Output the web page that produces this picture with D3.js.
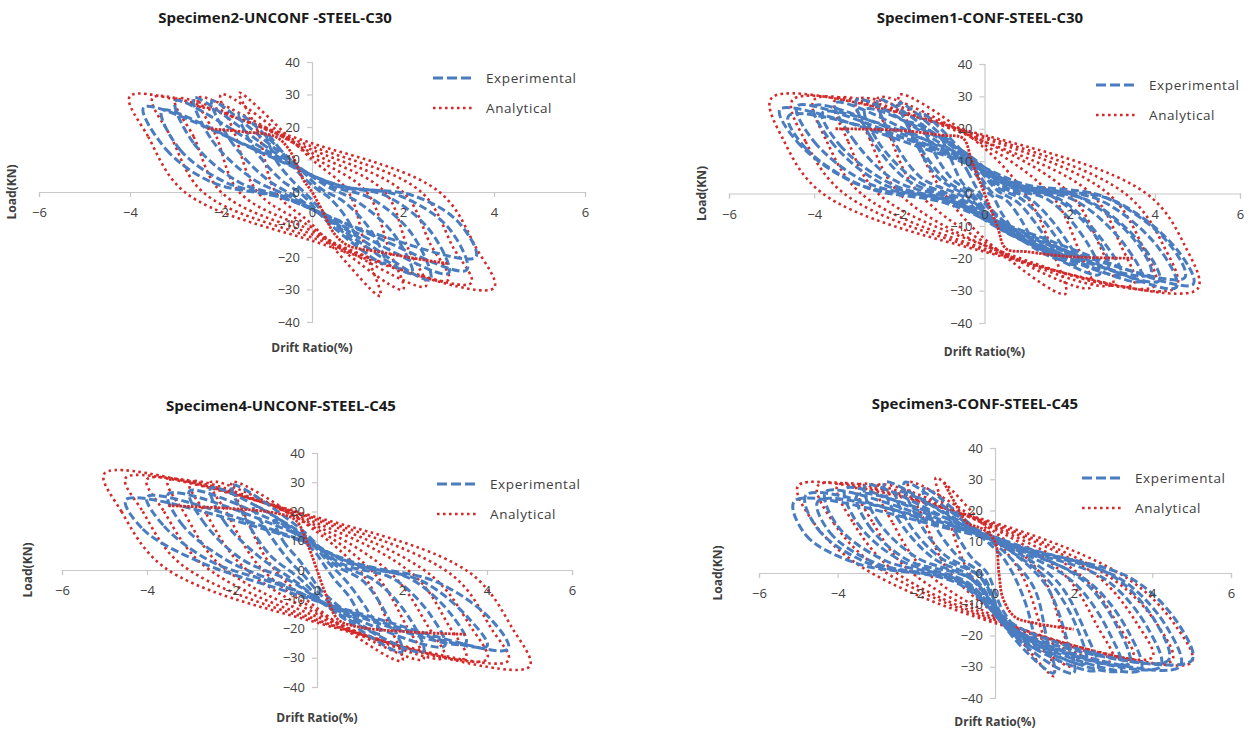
<!DOCTYPE html>
<html>
<head>
<meta charset="utf-8">
<script src="https://cdn.jsdelivr.net/npm/d3@7"></script>
<style>
  body { margin: 0; background: #fff; }
  svg { display: block; }
  .tick text { font-family: "Open Sans", "Liberation Sans", sans-serif; font-size: 13px; fill: #404040; }
  .axis path, .axis line { stroke: #c8c8c8; stroke-width: 1.2; }
</style>
</head>
<body>
<svg id="chart" width="1250" height="736"></svg>
<script>
// hysteresis comparison, 4 specimens
var xTicks = [-6, -4, -2, 0, 2, 4, 6];
var yTicks = [-40, -30, -20, -10, 0, 10, 20, 30, 40];
var titles = ["Specimen2-UNCONF -STEEL-C30", "Specimen1-CONF-STEEL-C30",
              "Specimen4-UNCONF-STEEL-C45", "Specimen3-CONF-STEEL-C45"];
var seriesNames = ["Experimental", "Analytical"];

// each loop: [drift %, load kN] key points
var experimental1 = [
  [[-3.7,26],[-3.2,13],[-2.2,3],[-0.6,-2],[1.2,-12],[3.6,-20],[3.2,-9],[2.2,-1],[0.6,2],[-1.2,13]],
  [[-3.3,25],[-2.9,13],[-1.9,3],[-0.6,-2],[1.1,-12],[3.4,-24],[3,-11],[1.9,-1],[0.6,2],[-1.1,12]],
  [[-3,28],[-2.6,15],[-1.6,3],[-0.5,-2],[0.9,-12],[3,-25],[2.6,-12],[1.6,-1],[0.5,2],[-0.9,12]],
  [[-2.6,29],[-2.2,16],[-1.3,4],[-0.4,-2],[0.8,-12],[2.6,-27],[2.2,-13],[1.3,-2],[0.4,2],[-0.8,12]],
  [[-2.2,28],[-1.8,16],[-1,4],[-0.3,-2],[0.6,-11],[2.2,-25],[1.8,-13],[1,-3],[0.3,2],[-0.6,11]],
  [[-1.6,24],[-1.3,14],[-0.7,4],[-0.2,-1],[0.4,-10],[1.6,-22],[1.3,-12],[0.7,-3],[0.2,1],[-0.4,9]],
  [[-1,18],[-0.8,10],[-0.4,3],[-0.1,-1],[0.3,-7],[1,-16],[0.8,-9],[0.4,-2],[0.1,1],[-0.3,6]]
];
var analytical1 = [
  [[-4,29.5],[-3.6,17],[-2.8,0],[0,-15],[4,-29.5],[3.6,-17],[2.8,0],[0,15]],
  [[-3.5,29],[-3.1,17],[-2.4,0],[0,-14],[3.5,-28],[3.1,-17],[2.4,0],[0,14]],
  [[-3,28.5],[-2.6,17],[-2,0],[0,-13],[3,-27],[2.6,-16],[2,0],[0,13]],
  [[-2.5,29],[-2.1,17],[-1.6,0],[0,-12],[2.5,-29],[2.1,-17],[1.6,0],[0,12]],
  [[-2,30],[-1.7,18],[-1.2,0],[0,-11],[2,-30],[1.7,-18],[1.2,0],[0,11]],
  [[-1.6,30.5],[-1.2,19],[-0.8,0],[0,-10],[1.5,-32],[1.2,-19],[0.8,0],[0,10]]
];
var analyticalCore1 = [[-2.3,19.5],[-1.5,18.5],[-0.8,17],[-0.5,13],[-0.2,4],[0,0],[0.2,-5],[0.5,-13],[0.8,-16.5],[1.5,-18.5],[2.5,-21],[3,-22]];

var experimental2 = [
  [[-4.8,26],[-4.4,16],[-3,3],[-1,-2],[1,-12],[4.9,-28],[4.5,-17],[3,-2],[1,2],[-1,12]],
  [[-4.6,24],[-4.2,14],[-2.8,2],[-0.9,-3],[0.9,-13],[4.7,-26],[4.3,-15],[2.8,-1],[0.9,3],[-0.9,13]],
  [[-4.4,27],[-4,16],[-2.7,3],[-0.9,-2],[0.9,-12],[4.5,-29],[4.1,-17],[2.7,-2],[0.9,2],[-0.9,12]],
  [[-4,27],[-3.6,16],[-2.4,3],[-0.8,-2],[0.8,-12],[4.1,-27],[3.7,-16],[2.4,-2],[0.8,2],[-0.8,12]],
  [[-3.8,25],[-3.4,15],[-2.2,3],[-0.7,-3],[0.7,-13],[3.9,-25],[3.5,-14],[2.2,-1],[0.7,3],[-0.7,13]],
  [[-3.5,28],[-3.1,17],[-2.1,4],[-0.7,-2],[0.7,-12],[3.7,-27],[3.3,-16],[2.1,-2],[0.7,2],[-0.7,12]],
  [[-3,29],[-2.7,18],[-1.8,4],[-0.6,-2],[0.6,-12],[3.2,-25],[2.8,-15],[1.8,-2],[0.6,2],[-0.6,12]],
  [[-2.8,26],[-2.5,16],[-1.6,4],[-0.5,-2],[0.5,-12],[2.9,-23],[2.6,-13],[1.6,-1],[0.5,3],[-0.5,13]],
  [[-2.5,29],[-2.2,18],[-1.5,5],[-0.5,-1],[0.5,-11],[2.7,-25],[2.4,-15],[1.5,-2],[0.5,2],[-0.5,12]],
  [[-2,28],[-1.7,18],[-1.1,5],[-0.4,-1],[0.4,-10],[2.2,-22],[1.9,-14],[1.1,-2],[0.4,2],[-0.4,11]],
  [[-1.8,22],[-1.5,14],[-0.9,4],[-0.3,-1],[0.3,-10],[1.9,-19],[1.6,-12],[0.9,-2],[0.3,2],[-0.3,11]],
  [[-1.5,25],[-1.3,16],[-0.8,5],[-0.3,0],[0.3,-9],[1.7,-20],[1.4,-13],[0.8,-3],[0.3,1],[-0.3,10]],
  [[-1,18],[-0.8,11],[-0.5,3],[-0.2,0],[0.2,-6],[1.1,-15],[0.9,-9],[0.5,-2],[0.2,0],[-0.2,7]],
  [[-0.6,12],[-0.4,7],[-0.2,2],[-0.1,0],[0.1,-4],[0.6,-10],[0.4,-6],[0.2,-1],[0.1,0],[-0.1,4]]
];
var analytical2 = [
  [[-5,29.5],[-4.7,16],[-3.8,0],[0,-18],[5,-29.5],[4.7,-16],[3.8,0],[0,18]],
  [[-4.5,29],[-4.2,16],[-3.3,0],[0,-17.5],[4.5,-29],[4.2,-16],[3.3,0],[0,17.5]],
  [[-4,29],[-3.7,16],[-2.9,0],[0,-17],[4,-28.5],[3.7,-16],[2.9,0],[0,17]],
  [[-3.5,29],[-3.2,16],[-2.5,0],[0,-16],[3.5,-28],[3.2,-16],[2.5,0],[0,16]],
  [[-3,29],[-2.7,17],[-2,0],[0,-16],[3,-28],[2.7,-16],[2,0],[0,16]],
  [[-2.5,29.5],[-2.2,17],[-1.6,1],[0,-15],[2.5,-29],[2.2,-17],[1.6,-1],[0,15]],
  [[-2,30.5],[-1.7,19],[-1.1,3],[0,-14],[1.9,-31],[1.6,-18],[1.1,-3],[0,14]]
];
var analyticalCore2 = [[-3.5,20],[-2,19.5],[-1,18],[-0.5,17],[-0.3,10],[0,0],[0.3,-10],[0.5,-17],[1,-18],[2,-19.5],[3.5,-20]];

var experimental3 = [
  [[-4.5,24],[-4.1,14],[-2.8,3],[-1,-6],[0.8,-14],[4.5,-27],[4.1,-17],[2.8,-4],[1,2],[-0.8,12]],
  [[-4,25],[-3.6,15],[-2.5,3],[-0.9,-5],[0.7,-14],[4,-26],[3.6,-17],[2.5,-4],[0.9,2],[-0.7,12]],
  [[-3.5,26],[-3.2,16],[-2.2,4],[-0.8,-5],[0.6,-14],[3.5,-25],[3.2,-16],[2.2,-3],[0.8,2],[-0.6,13]],
  [[-3,27],[-2.7,17],[-1.8,4],[-0.6,-4],[0.5,-14],[3,-26],[2.7,-16],[1.8,-3],[0.6,2],[-0.5,13]],
  [[-2.5,28],[-2.2,17],[-1.4,5],[-0.5,-4],[0.4,-14],[2.5,-28],[2.2,-17],[1.4,-4],[0.5,2],[-0.4,13]],
  [[-2,29],[-1.7,18],[-1.1,5],[-0.4,-3],[0.3,-13],[2,-28],[1.7,-17],[1.1,-4],[0.4,2],[-0.3,13]],
  [[-1.5,22],[-1.2,14],[-0.7,4],[-0.3,-2],[0.2,-10],[1.5,-22],[1.2,-14],[0.7,-4],[0.3,2],[-0.2,10]],
  [[-1,17],[-0.8,10],[-0.4,3],[-0.2,-1],[0.1,-7],[1,-17],[0.8,-10],[0.4,-3],[0.2,1],[-0.1,7]]
];
var analytical3 = [
  [[-5,33],[-4.6,20],[-3.6,1],[0,-18],[5,-33],[4.6,-20],[3.6,-1],[0,18]],
  [[-4.5,31.5],[-4.1,20],[-3.2,2],[0,-17.5],[4.5,-31],[4.1,-20],[3.2,-2],[0,17.5]],
  [[-4,31],[-3.6,20],[-2.7,2],[0,-17],[4,-30.5],[3.6,-19],[2.7,-2],[0,17]],
  [[-3.5,30.5],[-3.1,19],[-2.3,2],[0,-16],[3.5,-30],[3.1,-19],[2.3,-2],[0,16]],
  [[-3,30],[-2.6,19],[-1.8,2],[0,-15],[3,-30],[2.6,-19],[1.8,-2],[0,15]],
  [[-2.5,30],[-2.1,19],[-1.4,2],[0,-14],[2.5,-30.5],[2.1,-19],[1.4,-2],[0,14]],
  [[-2,30],[-1.7,19],[-1.1,2],[0,-13],[2,-31],[1.7,-19],[1.1,-2],[0,13]]
];
var analyticalCore3 = [[-3.5,22],[-2,21],[-1,19.5],[-0.5,17],[-0.2,8],[0,0],[0.2,-8],[0.5,-17],[1,-19.5],[2,-21],[3.5,-22]];

var experimental4 = [
  [[-5.1,23],[-4.8,12],[-3.5,3],[-1,-3],[0.8,-20],[5,-28],[4.7,-17],[3.5,-2],[1,7],[-0.8,13]],
  [[-4.8,25],[-4.5,14],[-3.2,3],[-0.9,-3],[0.7,-20],[4.7,-30],[4.4,-18],[3.2,-2],[0.9,7],[-0.7,13]],
  [[-4.5,23],[-4.2,13],[-3,3],[-0.8,-3],[0.7,-18],[4.4,-28],[4.1,-16],[3,-1],[0.8,8],[-0.7,14]],
  [[-4.3,26],[-4,15],[-2.8,4],[-0.8,-3],[0.6,-20],[4.2,-30],[3.9,-18],[2.8,-2],[0.8,7],[-0.6,13]],
  [[-3.8,27],[-3.5,16],[-2.4,4],[-0.7,-3],[0.6,-20],[3.7,-31],[3.4,-19],[2.4,-3],[0.7,7],[-0.6,13]],
  [[-3.5,25],[-3.2,15],[-2.2,4],[-0.6,-2],[0.5,-18],[3.4,-29],[3.1,-17],[2.2,-2],[0.6,8],[-0.5,14]],
  [[-3.3,28],[-3,17],[-2,5],[-0.6,-2],[0.5,-20],[3.2,-31],[2.9,-19],[2,-3],[0.6,7],[-0.5,13]],
  [[-2.8,29],[-2.5,18],[-1.6,5],[-0.5,-2],[0.5,-20],[2.6,-31],[2.3,-19],[1.6,-3],[0.5,7],[-0.5,13]],
  [[-2.5,26],[-2.2,16],[-1.4,5],[-0.4,-1],[0.4,-17],[2.3,-29],[2.1,-18],[1.4,-3],[0.4,7],[-0.4,13]],
  [[-2.3,29],[-2,18],[-1.3,6],[-0.4,-1],[0.4,-19],[2,-32],[1.8,-20],[1.3,-4],[0.4,7],[-0.4,13]],
  [[-1.8,27],[-1.6,17],[-1,6],[-0.3,-1],[0.3,-18],[1.5,-32],[1.3,-20],[1,-5],[0.3,6],[-0.3,12]],
  [[-1.2,20],[-1,13],[-0.6,5],[-0.2,0],[0.2,-12],[1,-24],[0.9,-15],[0.6,-4],[0.2,5],[-0.2,10]]
];
var analytical4 = [
  [[-5,28],[-4.6,16],[-3.4,2],[0,-16],[5,-28.5],[4.6,-17],[3.4,-2],[0,16]],
  [[-4.5,28],[-4.1,16],[-3,2],[0,-15.5],[4.5,-28],[4.1,-16],[3,-2],[0,15.5]],
  [[-4,28],[-3.6,16],[-2.6,1],[0,-15],[4,-27],[3.6,-16],[2.6,-1],[0,15]],
  [[-3.5,28],[-3.1,16],[-2.2,1],[0,-14.5],[3.5,-27],[3.1,-16],[2.2,-1],[0,14.5]],
  [[-3,28],[-2.6,16],[-1.8,1],[0,-14],[3,-28],[2.6,-17],[1.8,-1],[0,14]],
  [[-2.2,29],[-1.8,17],[-1.2,1],[0,-13],[2,-30],[1.7,-18],[1.2,-1],[0,13]],
  [[-1.5,30.5],[-1.2,18],[-0.7,1],[0,-11],[1.5,-33],[1.2,-19],[0.7,-1],[0,11]]
];
var analyticalCore4 = [[-1.3,29],[-1,22],[-0.7,16],[-0.3,14],[0,10],[0.1,0],[0.2,-8],[0.5,-14],[1,-16],[2,-18]];

var experimentalSets = [experimental1, experimental2, experimental3, experimental4];
var analyticalSets = [analytical1, analytical2, analytical3, analytical4];
var analyticalCores = [analyticalCore1, analyticalCore2, analyticalCore3, analyticalCore4];

// panel placement on the page
var frames = [
  {left: 39,  right: 585,  top: 62,  bottom: 322, titleX: 275, titleY: 23,  loadX: 16,  driftY: 352, legX: 433,  legY: 78},
  {left: 729, right: 1240, top: 64,  bottom: 323, titleX: 980, titleY: 23,  loadX: 706, driftY: 356, legX: 1096, legY: 85},
  {left: 62,  right: 572,  top: 453, bottom: 687, titleX: 281, titleY: 411, loadX: 32,  driftY: 722, legX: 437,  legY: 484},
  {left: 759, right: 1231, top: 448, bottom: 698, titleX: 975, titleY: 409, loadX: 722, driftY: 726, legX: 1082, legY: 478}
];

var blue = "#4a7dc0", red = "#d42a2a";
var font = "'Open Sans', 'Liberation Sans', sans-serif";

var svg = d3.select("#chart");

frames.forEach(function(f, i) {
  var x = d3.scaleLinear().domain([-6, 6]).range([f.left, f.right]);
  var y = d3.scaleLinear().domain([-40, 40]).range([f.bottom, f.top]);

  var line = d3.line()
      .x(function(d) { return x(d[0]); })
      .y(function(d) { return y(d[1]); })
      .curve(d3.curveCatmullRom);
  var loop = d3.line()
      .x(function(d) { return x(d[0]); })
      .y(function(d) { return y(d[1]); })
      .curve(d3.curveCatmullRomClosed.alpha(0.5));

  var g = svg.append("g");

  // axis lines under the data
  g.append("g")
      .attr("class", "axis")
      .attr("transform", "translate(0," + y(0) + ")")
      .call(d3.axisBottom(x).tickValues(xTicks).tickSize(5).tickSizeOuter(5).tickFormat(""));
  g.append("g")
      .attr("class", "axis")
      .attr("transform", "translate(" + x(0) + ",0)")
      .call(d3.axisLeft(y).tickValues(yTicks).tickSize(5).tickSizeOuter(5).tickFormat(""));

  g.append("g").selectAll("path")
      .data(analyticalSets[i])
    .enter().append("path")
      .attr("d", loop)
      .attr("fill", "none")
      .attr("stroke", red)
      .attr("stroke-width", 2.6)
      .attr("stroke-dasharray", "2.6,3.4");

  g.append("g").selectAll("path")
      .data(experimentalSets[i])
    .enter().append("path")
      .attr("d", loop)
      .attr("fill", "none")
      .attr("stroke", blue)
      .attr("stroke-width", 3)
      .attr("stroke-dasharray", "8,3.5");

  g.append("path")
      .datum(analyticalCores[i])
      .attr("d", line)
      .attr("fill", "none")
      .attr("stroke", red)
      .attr("stroke-width", 2.8)
      .attr("stroke-dasharray", "2.6,1.2");

  // tick labels on top
  var xa = g.append("g")
      .attr("transform", "translate(0," + y(0) + ")")
      .call(d3.axisBottom(x).tickValues(xTicks).tickSize(0).tickPadding(16));
  xa.select(".domain").remove();
  var ya = g.append("g")
      .attr("transform", "translate(" + x(0) + ",0)")
      .call(d3.axisLeft(y).tickValues(yTicks).tickSize(0).tickPadding(12));
  ya.select(".domain").remove();

  g.append("text")
      .attr("x", f.titleX).attr("y", f.titleY)
      .attr("text-anchor", "middle")
      .style("font-family", font).style("font-size", "15px").style("font-weight", "bold")
      .style("fill", "#1a1a1a")
      .text(titles[i]);

  g.append("text")
      .attr("x", x(0)).attr("y", f.driftY)
      .attr("text-anchor", "middle")
      .style("font-family", font).style("font-size", "12px").style("font-weight", "bold")
      .style("fill", "#404040")
      .text("Drift Ratio(%)");

  g.append("text")
      .attr("transform", "translate(" + f.loadX + "," + y(0) + ") rotate(-90)")
      .attr("text-anchor", "middle")
      .style("font-family", font).style("font-size", "12px").style("font-weight", "bold")
      .style("fill", "#404040")
      .text("Load(KN)");

  // legend
  var leg = g.append("g").attr("transform", "translate(" + f.legX + "," + f.legY + ")");
  seriesNames.forEach(function(name, k) {
    leg.append("line")
        .attr("x1", 0).attr("x2", 42)
        .attr("y1", k * 30).attr("y2", k * 30)
        .attr("stroke", k === 0 ? blue : red)
        .attr("stroke-width", k === 0 ? 2.8 : 2.6)
        .attr("stroke-dasharray", k === 0 ? "10,4" : "2.6,3.4");
    leg.append("text")
        .attr("x", 53).attr("y", k * 30 + 5)
        .style("font-family", font).style("font-size", "13.5px")
        .style("letter-spacing", "0.6px")
        .style("fill", "#404040")
        .text(name);
  });
});
</script>
</body>
</html>
